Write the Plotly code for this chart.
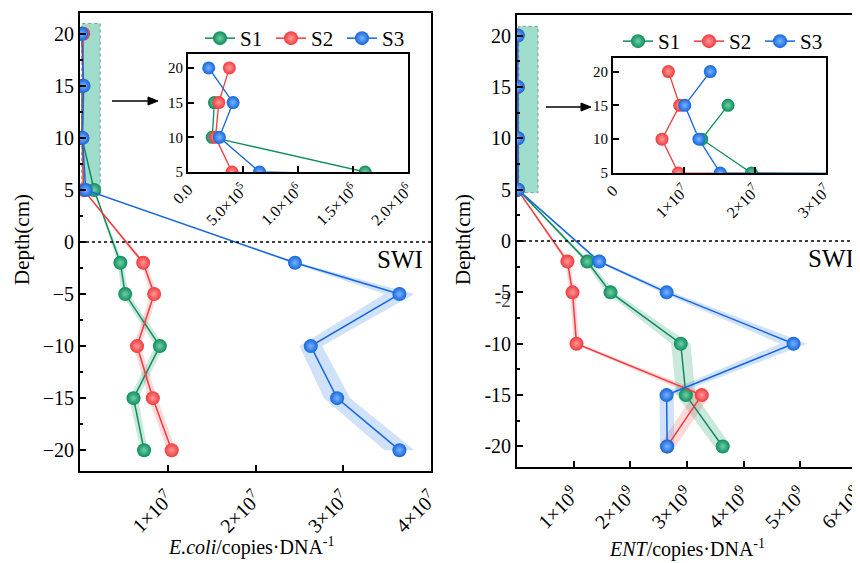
import plotly.graph_objects as go

# ---------------- data ----------------
depth = [20, 15, 10, 5, -2, -5, -10, -15, -20]
series_names = ["S1", "S2", "S3"]

ecoli_s1 = [None, 2.4e5, 2.2e5, 1.61e6, 4.6e6, 5.15e6, 9.1e6, 6.1e6, 7.3e6]
ecoli_s2 = [3.76e5, 2.8e5, 2.5e5, 4.0e5, 7.2e6, 8.45e6, 6.5e6, 8.3e6, 1.045e7]
ecoli_s3 = [1.88e5, 4.1e5, 2.85e5, 6.5e5, 2.45e7, 3.64e7, 2.63e7, 2.93e7, 3.64e7]
ecoli_s1_err = [0, 0, 0, 0, 3e5, 4e5, 5e5, 5e5, 4e5]
ecoli_s2_err = [0, 0, 0, 0, 3e5, 4e5, 4e5, 5e5, 5e5]
ecoli_s3_err = [0, 0, 0, 0, 4e5, 1.7e6, 1.3e6, 1.5e6, 1.7e6]

ent_s1 = [None, 1.62e7, 1.25e7, 1.95e7, 1.24e9, 1.65e9, 2.89e9, 2.98e9, 3.63e9]
ent_s2 = [0.78e7, 0.94e7, 0.69e7, 0.92e7, 0.89e9, 0.98e9, 1.05e9, 3.26e9, 2.65e9]
ent_s3 = [1.37e7, 1.01e7, 1.21e7, 1.51e7, 1.45e9, 2.64e9, 4.88e9, 2.64e9, 2.65e9]
ent_s1_err = [0, 0, 0, 0, 5e7, 8e7, 1.7e8, 1.7e8, 1.5e8]
ent_s2_err = [0, 0, 0, 0, 4e7, 5e7, 5e7, 1.5e8, 1.5e8]
ent_s3_err = [0, 0, 0, 0, 4e7, 1e8, 2.4e8, 1.25e8, 1.25e8]

ecoli_xticks = [1e7, 2e7, 3e7, 4e7]
ecoli_xticklabels = ["1×10<sup>7</sup>", "2×10<sup>7</sup>", "3×10<sup>7</sup>", "4×10<sup>7</sup>"]
ent_xticks = [1e9, 2e9, 3e9, 4e9, 5e9, 6e9]
ent_xticklabels = ["1×10<sup>9</sup>", "2×10<sup>9</sup>", "3×10<sup>9</sup>",
                   "4×10<sup>9</sup>", "5×10<sup>9</sup>", "6×10<sup>9</sup>"]
ecoli_inset_xticks = [0, 5e5, 1e6, 1.5e6, 2e6]
ecoli_inset_xticklabels = ["0.0", "5.0×10<sup>5</sup>", "1.0×10<sup>6</sup>",
                           "1.5×10<sup>6</sup>", "2.0×10<sup>6</sup>"]
ent_inset_xticks = [0, 1e7, 2e7, 3e7]
ent_inset_xticklabels = ["0", "1×10<sup>7</sup>", "2×10<sup>7</sup>", "3×10<sup>7</sup>"]
depth_ticks = [-20, -15, -10, -5, 0, 5, 10, 15, 20]
depth_ticklabels_left = ["−20", "−15", "−10", "−5", "0", "5", "10", "15", "20"]
depth_ticklabels_right = ["-20", "-15", "-10", "-5", "0", "5", "10", "15", "20"]
inset_depth_ticks = [5, 10, 15, 20]

# ---------------- styles ----------------
FONT = "Liberation Serif"
line_colors = ["#0e8c5c", "#f2393c", "#1466dc"]
light_colors = ["#6fd0a6", "#ff9a9a", "#79b3ff"]
band_colors = ["rgba(20,150,100,0.22)", "rgba(240,70,70,0.20)", "rgba(40,120,230,0.22)"]

W, H = 860, 563
OFF = 8  # page body margin offset


def px_x(p):
    return (p - OFF) / W


def px_y(p):
    return 1 - (p - OFF) / H


fig = go.Figure()


def add_panel(xs, errs, xa, ya, xa_in, ya_in, legend):
    # bands
    for i, (vals, err) in enumerate(zip(xs, errs)):
        pts = [(d, v, e) for d, v, e in zip(depth, vals, err) if v is not None and d <= 5]
        up = [v + e for d, v, e in pts]
        lo = [v - e for d, v, e in pts]
        ys = [d for d, v, e in pts]
        fig.add_trace(go.Scatter(x=up + lo[::-1], y=ys + ys[::-1], fill="toself",
                                 fillcolor=band_colors[i], line=dict(width=0),
                                 mode="lines", hoverinfo="skip", showlegend=False,
                                 xaxis=xa, yaxis=ya))
    # lines
    for i, vals in enumerate(xs):
        fig.add_trace(go.Scatter(x=vals, y=depth, mode="lines+markers", name=series_names[i],
                                 line=dict(color=line_colors[i], width=1.5),
                                 marker=dict(size=14, color=line_colors[i],
                                             gradient=dict(type="radial", color=light_colors[i]),
                                             line=dict(width=0)),
                                 legend=legend, xaxis=xa, yaxis=ya))
    # inset
    for i, vals in enumerate(xs):
        fig.add_trace(go.Scatter(x=vals, y=depth, mode="lines+markers", showlegend=False,
                                 line=dict(color=line_colors[i], width=1.3),
                                 marker=dict(size=13, color=line_colors[i],
                                             gradient=dict(type="radial", color=light_colors[i]),
                                             line=dict(width=0)),
                                 xaxis=xa_in, yaxis=ya_in))


add_panel([ecoli_s1, ecoli_s2, ecoli_s3], [ecoli_s1_err, ecoli_s2_err, ecoli_s3_err],
          "x", "y", "x3", "y3", "legend")
add_panel([ent_s1, ent_s2, ent_s3], [ent_s1_err, ent_s2_err, ent_s3_err],
          "x2", "y2", "x4", "y4", "legend2")

axis_common = dict(showline=True, linecolor="black", linewidth=1.8, mirror=True,
                   ticks="inside", tickcolor="black", tickwidth=1.5, ticklen=6,
                   showgrid=False, zeroline=False, automargin=False)

fig.update_layout(
    width=W, height=H, margin=dict(l=0, r=0, t=0, b=0, autoexpand=False),
    plot_bgcolor="white", paper_bgcolor="white",
    font=dict(family=FONT, color="black"),
    xaxis=dict(**axis_common, domain=[px_x(80), px_x(431)], range=[0, 4e7],
               tickvals=ecoli_xticks, ticktext=ecoli_xticklabels, tickangle=-45,
               tickfont=dict(size=20), ticklabelstandoff=6, anchor="y"),
    yaxis=dict(**axis_common, domain=[px_y(471), px_y(13)], range=[-22, 22],
               tickvals=depth_ticks, ticktext=depth_ticklabels_left, tickfont=dict(size=20),
               minor=dict(ticks="inside", dtick=2.5, ticklen=3, tickcolor="black"),
               anchor="x"),
    xaxis2=dict(**axis_common, domain=[px_x(517), px_x(857)], range=[0, 6e9],
                tickvals=ent_xticks, ticktext=ent_xticklabels, tickangle=-45,
                tickfont=dict(size=20), ticklabelstandoff=6, anchor="y2"),
    yaxis2=dict(**axis_common, domain=[px_y(467), px_y(15)], range=[-22, 22],
                tickvals=depth_ticks, ticktext=depth_ticklabels_right, tickfont=dict(size=20),
                minor=dict(ticks="inside", dtick=2.5, ticklen=3, tickcolor="black"),
                anchor="x2"),
    xaxis3=dict(**axis_common, domain=[px_x(188), px_x(408)], range=[0, 2e6],
                tickvals=ecoli_inset_xticks, ticktext=ecoli_inset_xticklabels, tickangle=-45,
                tickfont=dict(size=16), anchor="y3"),
    yaxis3=dict(**axis_common, domain=[px_y(172), px_y(54)], range=[5, 22],
                tickvals=inset_depth_ticks, tickfont=dict(size=15), anchor="x3"),
    xaxis4=dict(**axis_common, domain=[px_x(613), px_x(826)], range=[0, 3e7],
                tickvals=ent_inset_xticks, ticktext=ent_inset_xticklabels, tickangle=-45,
                tickfont=dict(size=16), anchor="y4"),
    yaxis4=dict(**axis_common, domain=[px_y(173), px_y(58)], range=[5, 22],
                tickvals=inset_depth_ticks, tickfont=dict(size=15), anchor="x4"),
    legend=dict(orientation="h", x=px_x(200), y=px_y(18), xanchor="left", yanchor="top",
                font=dict(size=21), bgcolor="rgba(0,0,0,0)", itemwidth=30,
                entrywidth=26, tracegroupgap=0),
    legend2=dict(orientation="h", x=px_x(618), y=px_y(21), xanchor="left", yanchor="top",
                 font=dict(size=21), bgcolor="rgba(0,0,0,0)", itemwidth=30,
                 entrywidth=26, tracegroupgap=0),
)

# inset gradient backgrounds
N = 40
top_rgb = (172, 220, 204)
for xr, yr in (("x3", "y3"), ("x4", "y4")):
    for k in range(N):
        frac = (k + 0.5) / N
        col = tuple(int(round(255 + (tc - 255) * frac)) for tc in top_rgb)
        fig.add_shape(type="rect", xref=f"{xr} domain", yref=f"{yr} domain",
                      x0=0, x1=1, y0=k / N, y1=(k + 1) / N + 0.002,
                      fillcolor=f"rgb{col}", line=dict(width=0), layer="below")

# highlight rectangles in main panels
fig.add_shape(type="rect", xref="x", yref="y", x0=2e5, x1=2.3e6, y0=4.6, y1=21,
              fillcolor="#9fdccb", line=dict(color="#7a9a90", width=1, dash="dot"),
              layer="below")
fig.add_shape(type="rect", xref="x2", yref="y2", x0=3e7, x1=3.7e8, y0=4.7, y1=20.9,
              fillcolor="#9fdccb", line=dict(color="#7a9a90", width=1, dash="dot"),
              layer="below")

# zero (SWI) dotted lines
for xr, yr in (("x", "y"), ("x2", "y2")):
    fig.add_shape(type="line", xref=f"{xr} domain", yref=yr, x0=0, x1=1, y0=0, y1=0,
                  line=dict(color="black", width=1.5, dash="dot"))

# arrows
fig.add_shape(type="line", xref="paper", yref="paper", x0=px_x(112), x1=px_x(150),
              y0=px_y(101), y1=px_y(101), line=dict(color="black", width=1.3))
fig.add_shape(type="path", xref="paper", yref="paper",
              path=f"M {px_x(148)},{px_y(97)} L {px_x(158)},{px_y(101)} L {px_x(148)},{px_y(105)} Z",
              fillcolor="black", line=dict(color="black", width=1))
fig.add_shape(type="line", xref="paper", yref="paper", x0=px_x(546), x1=px_x(583),
              y0=px_y(107), y1=px_y(107), line=dict(color="black", width=1.3))
fig.add_shape(type="path", xref="paper", yref="paper",
              path=f"M {px_x(581)},{px_y(103)} L {px_x(591)},{px_y(107)} L {px_x(581)},{px_y(111)} Z",
              fillcolor="black", line=dict(color="black", width=1))

# annotations
C = dict(xref="paper", yref="paper", showarrow=False, xanchor="center", yanchor="middle")
ann = []
ann.append(dict(text="SWI", x=px_x(400), y=px_y(260), font=dict(size=25), **C))
ann.append(dict(text="SWI", x=px_x(831), y=px_y(258), font=dict(size=25), **C))
ann.append(dict(text="<i>E.coli</i>/copies·DNA<sup>-1</sup>", x=px_x(252), y=px_y(546),
                font=dict(size=20), **C))
ann.append(dict(text="<i>ENT</i>/copies·DNA<sup>-1</sup>", x=px_x(687), y=px_y(548),
                font=dict(size=20), **C))
ann.append(dict(text="Depth(cm)", x=px_x(22), y=px_y(240), textangle=-90,
                font=dict(size=21), **C))
ann.append(dict(text="Depth(cm)", x=px_x(463), y=px_y(240), textangle=-90,
                font=dict(size=21), **C))
ann.append(dict(text="-2", x=px_x(503), y=px_y(300),
                font=dict(size=19, color="rgba(0,0,0,0.75)"), **C))
fig.update_layout(annotations=ann)

fig.write_html("out.html")
